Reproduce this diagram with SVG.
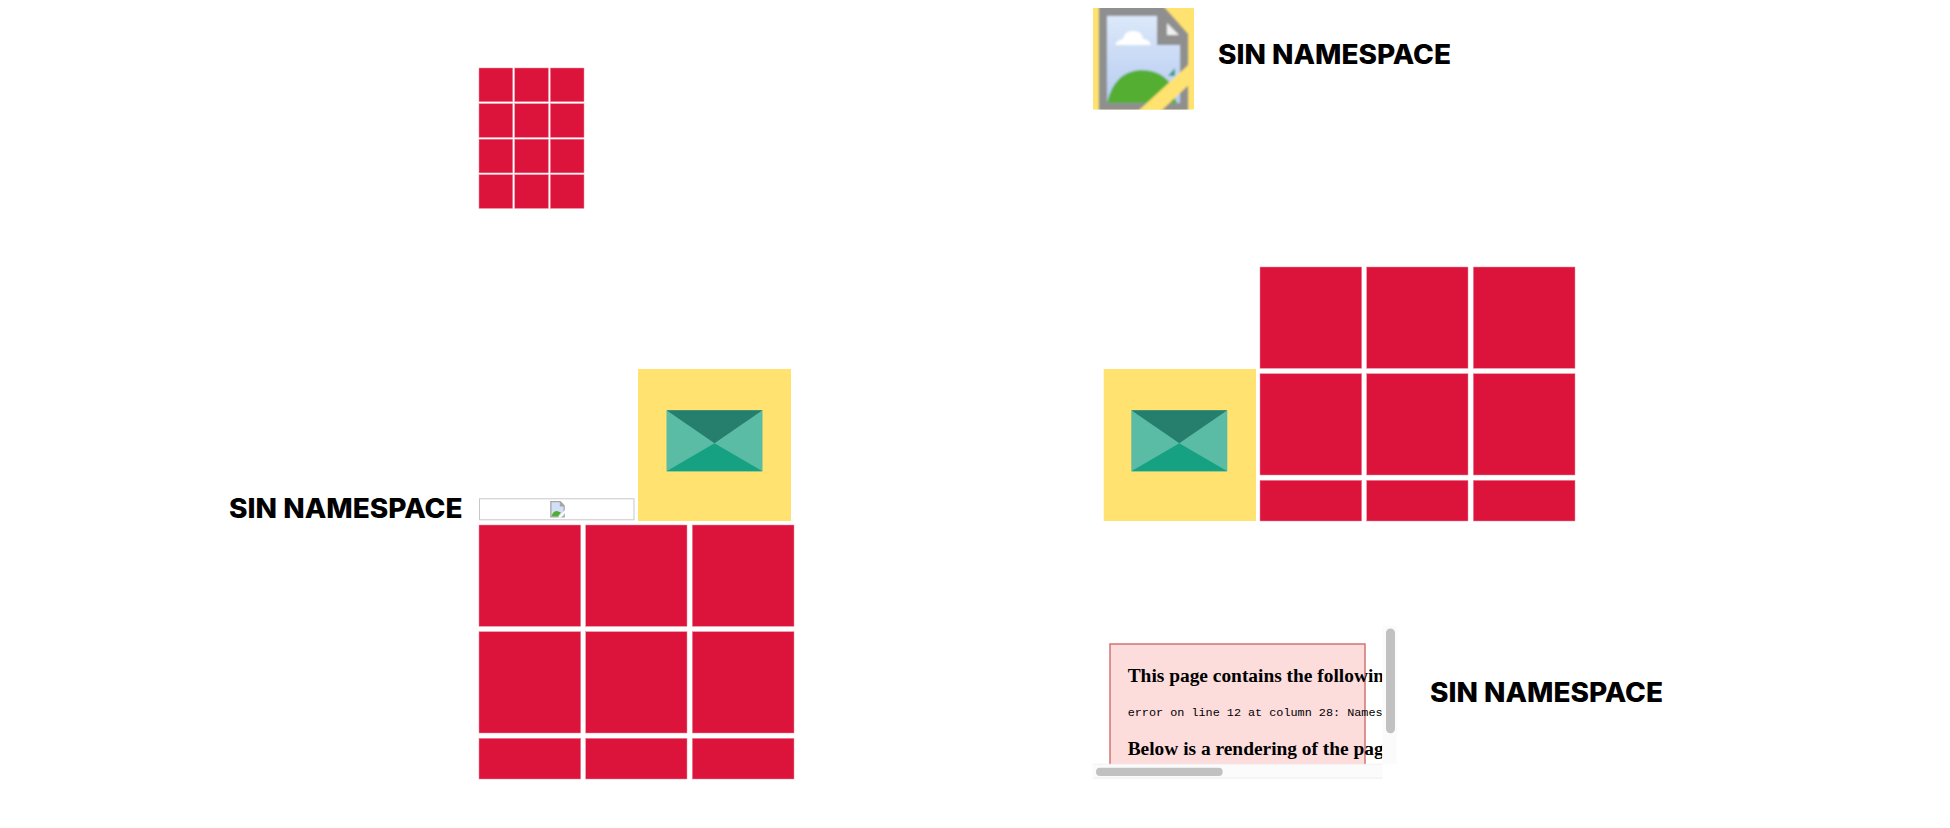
<svg xmlns="http://www.w3.org/2000/svg" width="1950" height="828" viewBox="0 0 1950 828">
<style>
.r{fill:#dc143c;stroke:#ee8ba0;stroke-width:.5}
.y{fill:#ffe270}
.t{font-family:Inter,"Liberation Sans",sans-serif;font-weight:800;font-size:26.5px;fill:#000}
.s{font-family:"Liberation Serif",serif;font-weight:700;font-size:19.4px;fill:#000}
.m{font-family:"Liberation Mono",monospace;font-size:11.8px;fill:#000}
.th{fill:#c1c1c1}
.tr{fill:#fbfbfb}
</style>
<defs>
<symbol id="env" viewBox="0 0 96 61" overflow="visible">
<rect width="96" height="61" fill="#5bbca6"/>
<polygon points="48,33 0,61 96,61" fill="#17a183"/>
<polygon points="0,0 96,0 48,33" fill="#267f6d"/>
</symbol>
<symbol id="big" viewBox="0 0 316 254" overflow="visible">
<rect class="r" x="0" y="0" width="101.7" height="101.3"/><rect class="r" x="106.7" y="0" width="101.3" height="101.3"/><rect class="r" x="213.3" y="0" width="101.7" height="101.3"/>
<rect class="r" x="0" y="106.7" width="101.7" height="101.3"/><rect class="r" x="106.7" y="106.7" width="101.3" height="101.3"/><rect class="r" x="213.3" y="106.7" width="101.7" height="101.3"/>
<rect class="r" x="0" y="213.3" width="101.7" height="40.7"/><rect class="r" x="106.7" y="213.3" width="101.3" height="40.7"/><rect class="r" x="213.3" y="213.3" width="101.7" height="40.7"/>
</symbol>
<linearGradient id="sky" x1="0" y1="0" x2="0" y2="1"><stop offset="0" stop-color="#dce8fa"/><stop offset="1" stop-color="#b6ccf0"/></linearGradient>
<filter id="soft" x="-5%" y="-5%" width="110%" height="110%"><feGaussianBlur stdDeviation="1"/></filter>
<clipPath id="page"><rect x="1092" y="625" width="290.3" height="139.3"/></clipPath>
<clipPath id="iconclip"><rect x="1093" y="8" width="101" height="101.5"/></clipPath>
</defs>

<g id="small-grid">
<rect class="r" x="479" y="68" width="33.7" height="33.7"/><rect class="r" x="514.7" y="68" width="33.7" height="33.7"/><rect class="r" x="550.3" y="68" width="33.7" height="33.7"/>
<rect class="r" x="479" y="103.700" width="33.7" height="33.7"/><rect class="r" x="514.7" y="103.700" width="33.7" height="33.7"/><rect class="r" x="550.3" y="103.700" width="33.7" height="33.7"/>
<rect class="r" x="479" y="139.200" width="33.7" height="33.7"/><rect class="r" x="514.7" y="139.200" width="33.7" height="33.7"/><rect class="r" x="550.3" y="139.200" width="33.7" height="33.7"/>
<rect class="r" x="479" y="174.700" width="33.7" height="33.7"/><rect class="r" x="514.7" y="174.700" width="33.7" height="33.7"/><rect class="r" x="550.3" y="174.700" width="33.7" height="33.7"/>
</g>

<g id="broken-icon-top">
<rect class="y" x="1093" y="8" width="101" height="101.5"/>
<g clip-path="url(#iconclip)">
<g filter="url(#soft)">
<polygon points="1099,6 1163,6 1188,34 1188,112 1099,112" fill="#8f8f8f"/>
<polygon points="1107,16 1157,16 1157,45 1180,45 1180,103 1107,103" fill="url(#sky)"/>
<polygon points="1167,23 1179,35 1167,35" fill="#f0f0f0"/>
<path d="M1115,45 q2,-5 8,-6 q2,-9 11,-8 q8,0 9,8 q6,0 8,6 z" fill="#fff"/>
<path d="M1107,103 Q1114,72 1140,70 Q1160,70 1170,83 L1175,103 z" fill="#52ae32"/>
<polygon points="1162,103 1172,92 1177,103" fill="#52ae32"/>
<polygon points="1137,112 1160,112 1198,76 1198,56" class="y"/>
<polygon points="1168,76 1175,68 1175,76" fill="#2e9d8e"/>
</g>
</g>
</g>
<text id="label-top" class="t" x="1218" y="64" textLength="233" lengthAdjust="spacingAndGlyphs">SIN NAMESPACE</text>

<g id="left-block">
<text class="t" x="229" y="518" textLength="233.500" lengthAdjust="spacingAndGlyphs">SIN NAMESPACE</text>
<rect x="479.500" y="498.800" width="154.500" height="21" fill="#fff" stroke="#c8c8c8" stroke-width="1"/>
<g id="broken-icon-small">
<polygon points="550.200,501 560.500,501 564.800,505.500 564.800,517.500 550.200,517.500" fill="#a5a5a5"/>
<polygon points="551.500,502.300 559.800,502.300 559.800,506.500 563.500,506.500 563.500,516.300 551.500,516.300" fill="#d2e0f7"/>
<path d="M551.500,516.300 Q553,511 557,511 L561,512.500 L558,516.300z" fill="#52ae32"/>
<polygon points="558,517.500 561,517.500 565,513 565,510" fill="#fff"/>
</g>
<rect class="y" x="638" y="369" width="153" height="152"/>
<use href="#env" x="666.500" y="410.300" width="96" height="61"/>
<use href="#big" x="479" y="525" width="316" height="254"/>
</g>

<g id="right-block">
<rect class="y" x="1103.700" y="369" width="152.300" height="152"/>
<use href="#env" x="1131.300" y="410.300" width="96" height="61"/>
<use href="#big" x="1260" y="267" width="316" height="254"/>
</g>

<g id="error-page">
<g clip-path="url(#page)">
<rect x="1110" y="644" width="255" height="130" fill="#fddcdc" stroke="#cf7474" stroke-width="1.500"/>
<text class="s" x="1127.700" y="681.700">This page contains the followin</text>
<text class="m" x="1127.700" y="716">error on line 12 at column 28: Names</text>
<text class="s" x="1127.700" y="755.300">Below is a rendering of the pag</text>
</g>
<rect class="tr" x="1382.300" y="625.700" width="14.400" height="138.600"/>
<rect class="th" x="1386" y="628.500" width="9" height="104.800" rx="4.500"/>
<rect class="tr" x="1092.700" y="764.300" width="289.600" height="14"/>
<rect x="1092.700" y="763.800" width="289.600" height=".6" fill="#ececec"/>
<rect x="1092.700" y="777.800" width="289.600" height=".6" fill="#e6e6e6"/>
<rect class="th" x="1096" y="767.700" width="126.700" height="8.300" rx="4.100"/>
</g>
<text id="label-right" class="t" x="1430" y="701.500" textLength="233" lengthAdjust="spacingAndGlyphs">SIN NAMESPACE</text>
</svg>
